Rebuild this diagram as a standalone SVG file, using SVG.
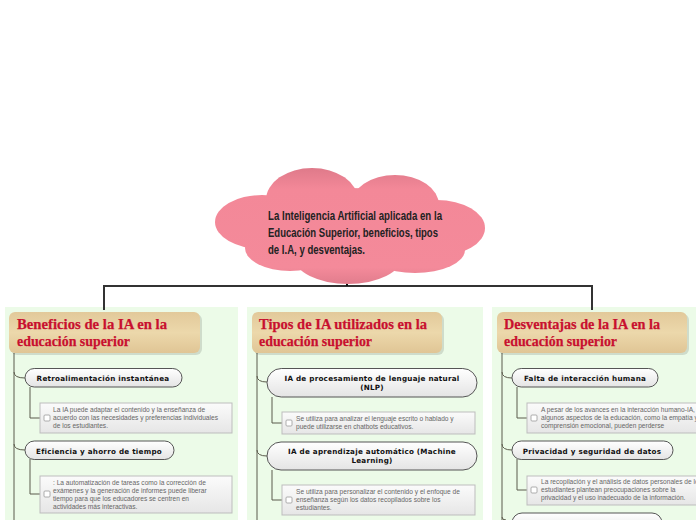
<svg xmlns="http://www.w3.org/2000/svg" width="696" height="520" viewBox="0 0 696 520">
<defs>
<linearGradient id="cloudG" gradientUnits="userSpaceOnUse" x1="0" y1="168" x2="0" y2="285">
<stop offset="0" stop-color="#df7a8a"/><stop offset="0.18" stop-color="#f38898"/><stop offset="0.85" stop-color="#f48a9a"/><stop offset="1" stop-color="#e07c8c"/>
</linearGradient>
<linearGradient id="hdrG" x1="0" y1="0" x2="0" y2="1">
<stop offset="0" stop-color="#e2c99a"/><stop offset="0.5" stop-color="#ecd8ab"/><stop offset="1" stop-color="#e0c595"/>
</linearGradient>
<linearGradient id="pillG" x1="0" y1="0" x2="0" y2="1">
<stop offset="0" stop-color="#ffffff"/><stop offset="1" stop-color="#e4e4e4"/>
</linearGradient>
<linearGradient id="boxG" x1="0" y1="0" x2="0" y2="1">
<stop offset="0" stop-color="#fbfbfb"/><stop offset="1" stop-color="#e6e6e6"/>
</linearGradient>
</defs>
<style>
.panel{fill:#ecfbe8}
.hdr{fill:url(#hdrG)}
.hdrsh{fill:#000;opacity:0.12}
.ht{font-family:"Liberation Serif","Times New Roman",serif;font-weight:bold;font-size:15px;fill:#c8102f;stroke:#c8102f;stroke-width:0.25}
.pill{fill:url(#pillG);stroke:#555;stroke-width:1}
.pt{font-family:"DejaVu Sans",Verdana,sans-serif;font-weight:bold;font-size:7.2px;letter-spacing:0.25px;fill:#111;text-anchor:middle}
.box{fill:url(#boxG);stroke:#bdbdbd;stroke-width:1}
.cb{fill:#fff;stroke:#999;stroke-width:0.8}
.bt{font-family:"Liberation Sans",Arial,sans-serif;font-size:6.6px;fill:#666}
.ln{fill:none;stroke:#5b5b4c;stroke-width:1}
.main{fill:none;stroke:#333;stroke-width:2}
.ct{font-family:"Liberation Sans Narrow","Liberation Sans",Arial,sans-serif;font-weight:bold;font-size:12.5px;fill:#222}
</style>

<rect class="panel" x="5" y="307" width="233" height="213"/>
<rect class="panel" x="247" y="307" width="236" height="213"/>
<rect class="panel" x="492" y="307" width="204" height="213"/>

<g id="connectors">
<path class="main" d="M104,310 V286 H592 V310"/>
<path d="M347,276 V286" fill="none" stroke="#111" stroke-width="2"/>
<path class="ln" d="M14,353 V520"/>
<path class="ln" d="M14,372 Q14,378 25,378"/>
<path class="ln" d="M30,387 V418 H40"/>
<path class="ln" d="M14,444 Q14,450 25,450"/>
<path class="ln" d="M30,459 V494 H40"/>
<path class="ln" d="M257,353 V520"/>
<path class="ln" d="M257,376 Q257,382 267,382"/>
<path class="ln" d="M272,397 V423 H282"/>
<path class="ln" d="M257,450 Q257,456 267,456"/>
<path class="ln" d="M272,470 V500 H282"/>
<path class="ln" d="M502,353 V520"/>
<path class="ln" d="M502,372 Q502,378 512,378"/>
<path class="ln" d="M517,387 V418 H527"/>
<path class="ln" d="M502,444 Q502,450 512,450"/>
<path class="ln" d="M517,459 V490 H527"/>
<path class="ln" d="M502,517 Q502,520 506,520"/>
</g>

<g id="central">
<g fill="url(#cloudG)">
<ellipse cx="312" cy="200" rx="46" ry="32"/>
<ellipse cx="395" cy="205" rx="44" ry="30"/>
<ellipse cx="262" cy="222" rx="47" ry="27"/>
<ellipse cx="437" cy="228" rx="48" ry="28"/>
<ellipse cx="290" cy="248" rx="45" ry="23"/>
<ellipse cx="348" cy="257" rx="54" ry="27"/>
<ellipse cx="415" cy="250" rx="50" ry="23"/>
<ellipse cx="350" cy="228" rx="105" ry="40"/>
</g>
<text class="ct" x="268" y="220" textLength="174" lengthAdjust="spacingAndGlyphs">La Inteligencia Artificial aplicada en la</text>
<text class="ct" x="268" y="237" textLength="170" lengthAdjust="spacingAndGlyphs">Educación Superior, beneficios, tipos</text>
<text class="ct" x="268" y="254" textLength="97" lengthAdjust="spacingAndGlyphs">de I.A, y desventajas.</text>
</g>

<g id="beneficios">
<rect class="hdrsh" x="11" y="314" width="191" height="41" rx="6"/>
<rect class="hdr" x="9" y="312" width="191" height="41" rx="6"/>
<text class="ht" x="17" y="329" textLength="150" lengthAdjust="spacingAndGlyphs">Beneficios de la IA en la</text>
<text class="ht" x="17" y="346" textLength="113" lengthAdjust="spacingAndGlyphs">educación superior</text>
</g>
<g id="retro">
<rect class="pill" x="25" y="368.5" width="157" height="18.5" rx="9.25"/>
<text class="pt" x="103" y="381">Retroalimentación instantánea</text>
</g>
<g id="retro-nota">
<rect class="box" x="40" y="403" width="192" height="30"/>
<rect class="cb" x="44" y="415" width="6" height="6" rx="1"/>
<text class="bt" x="53" y="412">La IA puede adaptar el contenido y la enseñanza de</text>
<text class="bt" x="53" y="420">acuerdo con las necesidades y preferencias individuales</text>
<text class="bt" x="53" y="428">de los estudiantes.</text>
</g>
<g id="eficiencia">
<rect class="pill" x="25" y="441" width="149" height="18.5" rx="9.25"/>
<text class="pt" x="99" y="453.5">Eficiencia y ahorro de tiempo</text>
</g>
<g id="eficiencia-nota">
<rect class="box" x="40" y="476" width="192" height="37"/>
<rect class="cb" x="44" y="491" width="6" height="6" rx="1"/>
<text class="bt" x="53" y="485">: La automatización de tareas como la corrección de</text>
<text class="bt" x="53" y="493">exámenes y la generación de informes puede liberar</text>
<text class="bt" x="53" y="501">tiempo para que los educadores se centren en</text>
<text class="bt" x="53" y="509">actividades más interactivas.</text>
</g>

<g id="tipos">
<rect class="hdrsh" x="254" y="314" width="190" height="41" rx="6"/>
<rect class="hdr" x="252" y="312" width="190" height="41" rx="6"/>
<text class="ht" x="259" y="329" textLength="168" lengthAdjust="spacingAndGlyphs">Tipos de IA utilizados en la</text>
<text class="ht" x="259" y="346" textLength="113" lengthAdjust="spacingAndGlyphs">educación superior</text>
</g>
<g id="nlp">
<rect class="pill" x="267" y="368.5" width="210" height="28.5" rx="14.25"/>
<text class="pt" x="372" y="381">IA de procesamiento de lenguaje natural</text>
<text class="pt" x="372" y="390">(NLP)</text>
</g>
<g id="nlp-nota">
<rect class="box" x="282" y="412" width="193" height="22"/>
<rect class="cb" x="286" y="420" width="6" height="6" rx="1"/>
<text class="bt" x="296" y="421">Se utiliza para analizar el lenguaje escrito o hablado y</text>
<text class="bt" x="296" y="429">puede utilizarse en chatbots educativos.</text>
</g>
<g id="ml">
<rect class="pill" x="267" y="442" width="210" height="28" rx="14"/>
<text class="pt" x="372" y="454">IA de aprendizaje automático (Machine</text>
<text class="pt" x="372" y="463">Learning)</text>
</g>
<g id="ml-nota">
<rect class="box" x="282" y="485" width="193" height="30"/>
<rect class="cb" x="286" y="497" width="6" height="6" rx="1"/>
<text class="bt" x="296" y="494">Se utiliza para personalizar el contenido y el enfoque de</text>
<text class="bt" x="296" y="502">enseñanza según los datos recopilados sobre los</text>
<text class="bt" x="296" y="510">estudiantes.</text>
</g>

<g id="desventajas">
<rect class="hdrsh" x="499" y="314" width="190" height="41" rx="6"/>
<rect class="hdr" x="497" y="312" width="190" height="41" rx="6"/>
<text class="ht" x="504" y="329" textLength="156" lengthAdjust="spacingAndGlyphs">Desventajas de la IA en la</text>
<text class="ht" x="504" y="346" textLength="113" lengthAdjust="spacingAndGlyphs">educación superior</text>
</g>
<g id="interaccion">
<rect class="pill" x="512" y="368.5" width="146" height="18.5" rx="9.25"/>
<text class="pt" x="585" y="381">Falta de interacción humana</text>
</g>
<g id="interaccion-nota">
<rect class="box" x="527" y="403" width="200" height="30"/>
<rect class="cb" x="531" y="415" width="6" height="6" rx="1"/>
<text class="bt" x="541" y="412">A pesar de los avances en la interacción humano-IA,</text>
<text class="bt" x="541" y="420">algunos aspectos de la educación, como la empatía y la</text>
<text class="bt" x="541" y="428">comprensión emocional, pueden perderse</text>
</g>
<g id="privacidad">
<rect class="pill" x="512" y="441" width="161" height="18.5" rx="9.25"/>
<text class="pt" x="592" y="453.5">Privacidad y seguridad de datos</text>
</g>
<g id="privacidad-nota">
<rect class="box" x="527" y="476" width="200" height="29"/>
<rect class="cb" x="531" y="487" width="6" height="6" rx="1"/>
<text class="bt" x="541" y="484">La recopilación y el análisis de datos personales de los</text>
<text class="bt" x="541" y="492">estudiantes plantean preocupaciones sobre la</text>
<text class="bt" x="541" y="500">privacidad y el uso inadecuado de la información.</text>
</g>
<g id="tercera">
<rect class="pill" x="512" y="513" width="150" height="20" rx="10"/>
</g>
</svg>
